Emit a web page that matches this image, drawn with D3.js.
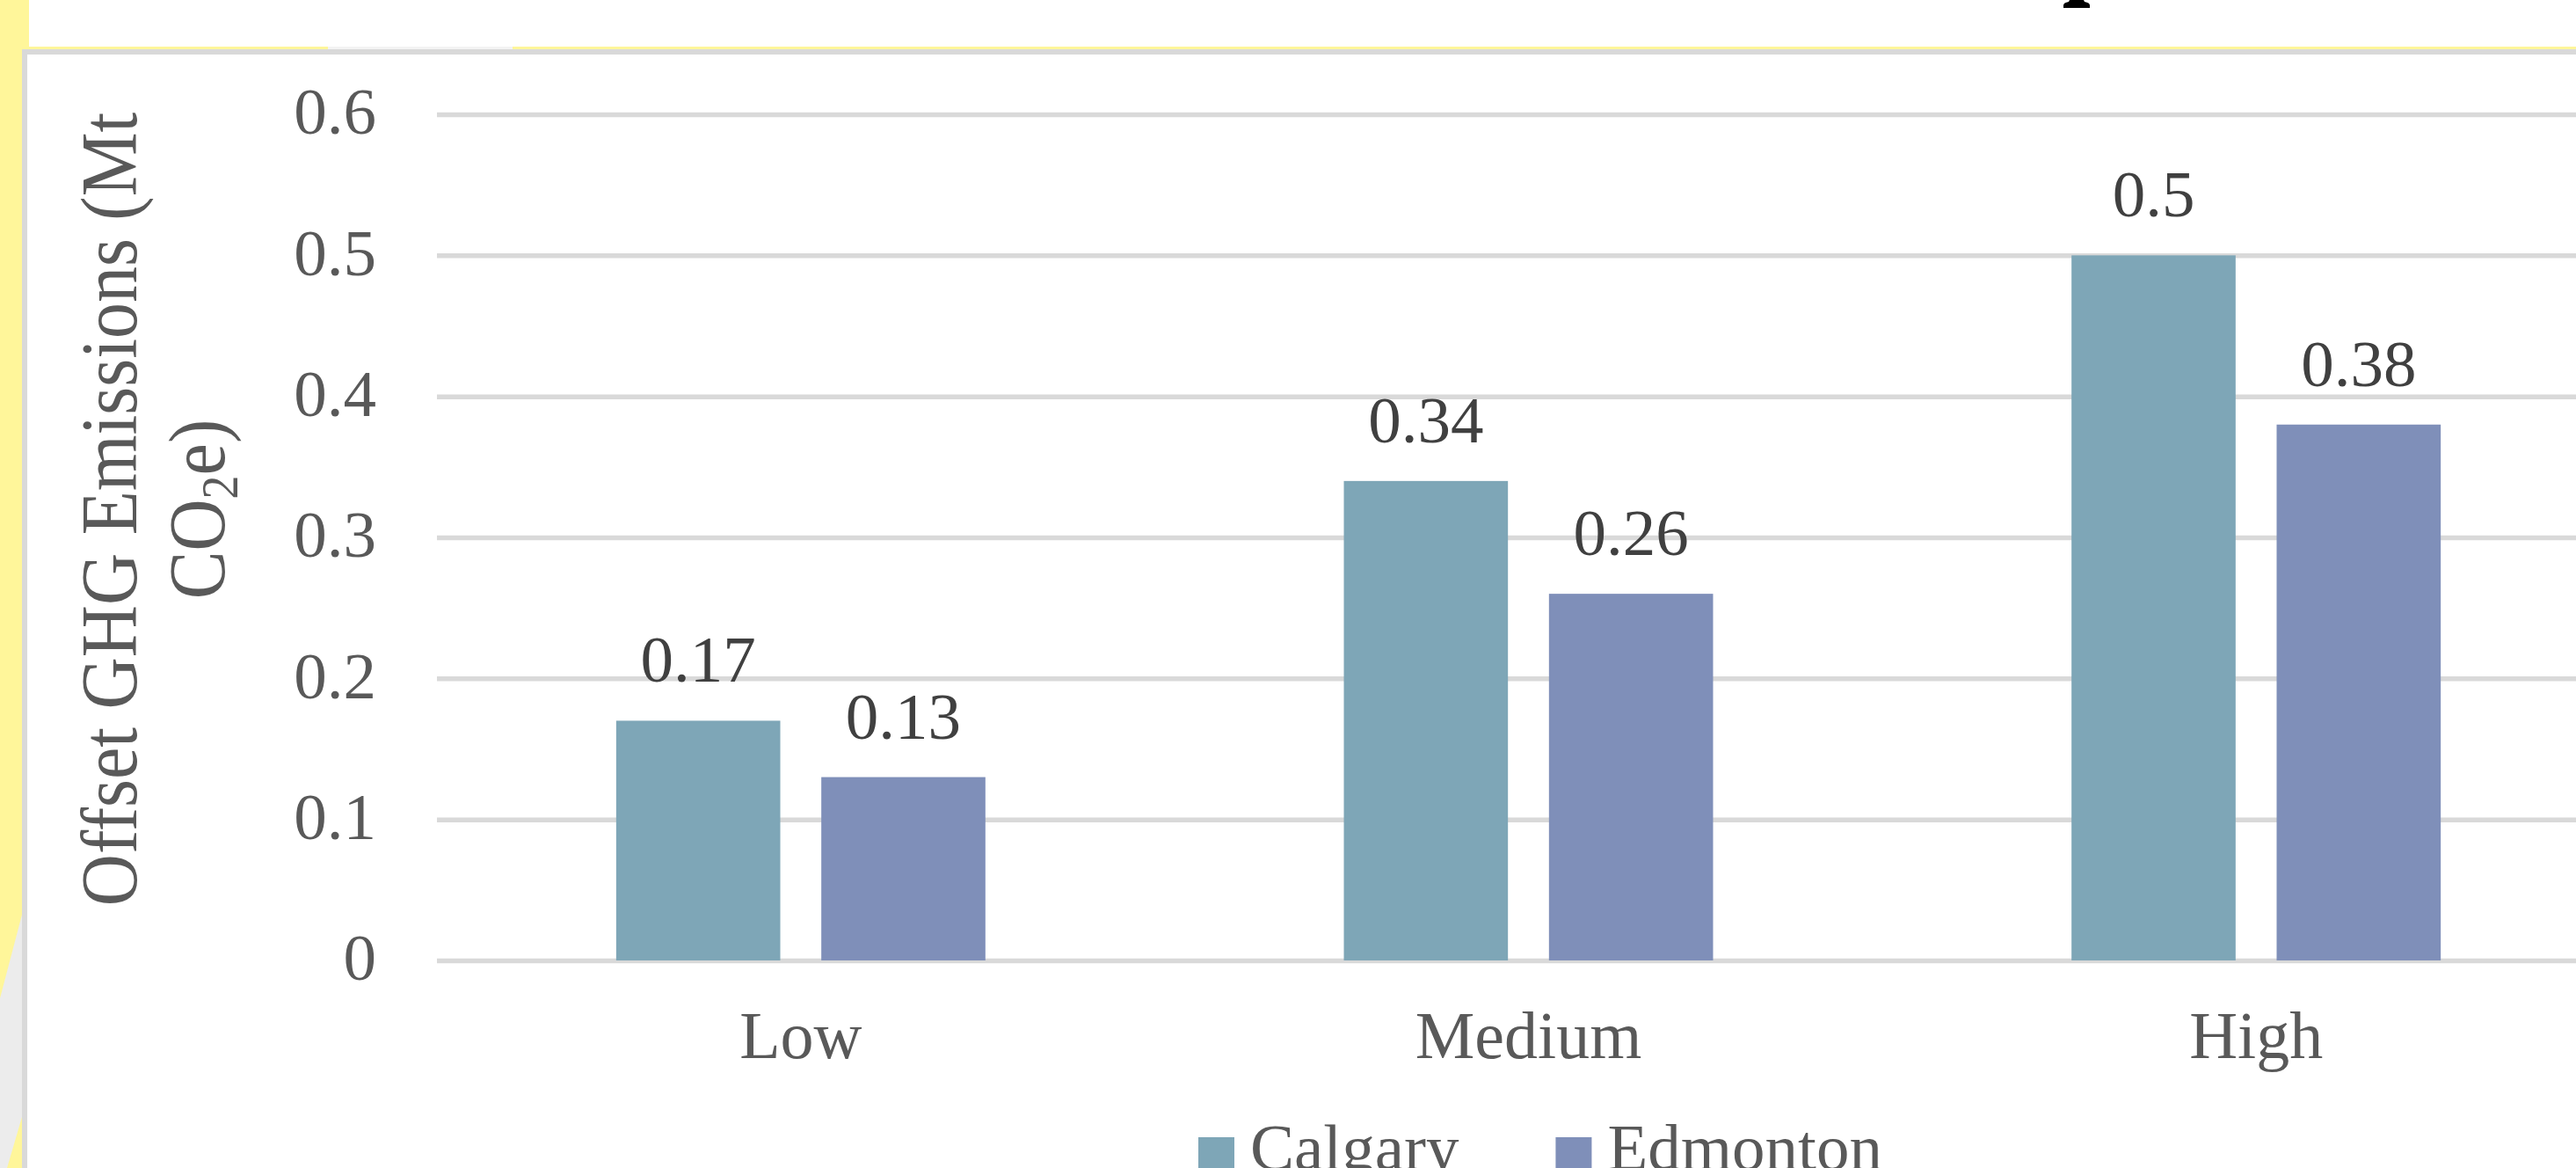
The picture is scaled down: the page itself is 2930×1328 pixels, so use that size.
<!DOCTYPE html>
<html>
<head>
<meta charset="utf-8">
<script src="https://cdn.jsdelivr.net/npm/d3@7"></script>
<style>
  html, body { margin: 0; padding: 0; background: #ffffff; }
  svg { display: block; }
  text { font-family: "Liberation Serif", "Times New Roman", serif; }
</style>
</head>
<body>
<svg id="chart" width="2930" height="1328"></svg>
<script>
// Scenario categories and the two city series (Mt CO2e)
const categories = ["Low", "Medium", "High"];
const seriesNames = ["Calgary", "Edmonton"];
const calgaryValues = [0.17, 0.34, 0.5];
const edmontonValues = [0.13, 0.26, 0.38];
const seriesColors = ["#7ea6b7", "#7f8fb9"];

// Value axis ticks
const yTickValues = [0, 0.1, 0.2, 0.3, 0.4, 0.5, 0.6];
const yTickLabels = ["0", "0.1", "0.2", "0.3", "0.4", "0.5", "0.6"];

const W = 2930, H = 1328;
const plot = { left: 497, right: 2980, top: 130, bottom: 1092 };

const svg = d3.select("#chart");

// ---- page frame: yellow margin, grey chart border, cut-off heading glyph ----
const yellow = "#fff69a";
svg.append("rect").attr("x", 0).attr("y", 0).attr("width", W).attr("height", H).attr("fill", "#ffffff");
svg.append("rect").attr("x", 0).attr("y", 0).attr("width", 33).attr("height", 56).attr("fill", yellow);
svg.append("rect").attr("x", 33).attr("y", 53).attr("width", 340).attr("height", 3).attr("fill", yellow);
svg.append("rect").attr("x", 373).attr("y", 53).attr("width", 210).attr("height", 3).attr("fill", "#f3f3f3");
svg.append("rect").attr("x", 583).attr("y", 53).attr("width", W - 583).attr("height", 3).attr("fill", yellow);
svg.append("rect").attr("x", 0).attr("y", 56).attr("width", 25).attr("height", H - 56).attr("fill", yellow);
// light grey wedge at the lower left of the margin
svg.append("path")
  .attr("d", "M25,1040 L25,1270 L8,1328 L0,1328 L0,1135 Z")
  .attr("fill", "#ececec");
// chart area border
svg.append("rect").attr("x", 25).attr("y", 56).attr("width", W).attr("height", 6).attr("fill", "#d9d9d9");
svg.append("rect").attr("x", 25).attr("y", 56).attr("width", 6).attr("height", H).attr("fill", "#d9d9d9");
// foot of a heading letter peeking in at the top edge
svg.append("path")
  .attr("d", "M2347,9 L2347,6 Q2347,3 2353,2 L2354,0 L2370,0 L2371,2 Q2377,3 2377,6 L2377,9 Z")
  .attr("fill", "#000000");

// ---- scales ----
const y = d3.scaleLinear().domain([0, 0.6]).range([plot.bottom, plot.top]);
const x0 = d3.scaleBand().domain(categories).range([plot.left, plot.right])
  .paddingInner(0.4926).paddingOuter(0.2463);
const x1 = d3.scaleBand().domain(seriesNames).range([0, x0.bandwidth()]).paddingInner(0.2);

// ---- value axis with gridlines ----
const yAxis = d3.axisLeft(y)
  .tickValues(yTickValues)
  .tickFormat((d, i) => yTickLabels[i])
  .tickSize(-(plot.right - plot.left))
  .tickPadding(69);

const gy = svg.append("g").attr("transform", `translate(${plot.left},0)`).call(yAxis);
gy.select(".domain").remove();
gy.selectAll(".tick line").attr("stroke", "#d9d9d9").attr("stroke-width", 5.5);
gy.selectAll(".tick text")
  .attr("fill", "#595959")
  .attr("font-size", 75)
  .attr("font-family", "'Liberation Serif', 'Times New Roman', serif")
  .attr("dy", "0.29em");

// ---- bars ----
const rows = categories.map((c, i) => ({ category: c, values: [calgaryValues[i], edmontonValues[i]] }));

const groups = svg.append("g").selectAll("g")
  .data(rows)
  .join("g")
  .attr("transform", d => `translate(${x0(d.category)},0)`);

const cells = groups.selectAll("g")
  .data(d => d.values.map((v, j) => ({ series: seriesNames[j], value: v, color: seriesColors[j] })))
  .join("g");

cells.append("rect")
  .attr("x", d => x1(d.series))
  .attr("y", d => y(d.value))
  .attr("width", x1.bandwidth())
  .attr("height", d => y(0) - y(d.value))
  .attr("fill", d => d.color);

cells.append("text")
  .attr("x", d => x1(d.series) + x1.bandwidth() / 2)
  .attr("y", d => y(d.value) - 44)
  .attr("text-anchor", "middle")
  .attr("fill", "#404040")
  .attr("font-size", 75)
  .text(d => String(d.value));

// ---- category axis ----
const xAxis = d3.axisBottom(x0).tickSize(0);
const gx = svg.append("g").attr("transform", `translate(0,${plot.bottom})`).call(xAxis);
gx.select(".domain").remove();
gx.selectAll(".tick text")
  .attr("fill", "#595959")
  .attr("font-size", 76)
  .attr("font-family", "'Liberation Serif', 'Times New Roman', serif")
  .attr("y", 111)
  .attr("dy", 0);

// ---- axis title (two lines, rotated) ----
const titleCY = 579;
const title = svg.append("g").attr("fill", "#595959").attr("font-size", 82);
title.append("text")
  .attr("transform", `translate(155,${titleCY}) rotate(-90) scale(1,1.1)`)
  .attr("text-anchor", "middle")
  .text("Offset GHG Emissions (Mt");
const t2 = title.append("text")
  .attr("transform", `translate(255,${titleCY}) rotate(-90) scale(1,1.1)`)
  .attr("text-anchor", "middle");
t2.append("tspan").text("CO");
t2.append("tspan").attr("font-size", 54).attr("dy", 14).text("2");
t2.append("tspan").attr("dy", -14).text("e)");

// ---- legend ----
const legend = svg.append("g");
let lx = 1363;
seriesNames.forEach((name, i) => {
  legend.append("rect")
    .attr("x", lx).attr("y", 1293)
    .attr("width", 41).attr("height", 41)
    .attr("fill", seriesColors[i]);
  const t = legend.append("text")
    .attr("x", lx + 59).attr("y", 1330)
    .attr("fill", "#595959")
    .attr("font-size", 75)
    .text(name);
  lx = lx + 59 + t.node().getComputedTextLength() + 110;
});
</script>
</body>
</html>
